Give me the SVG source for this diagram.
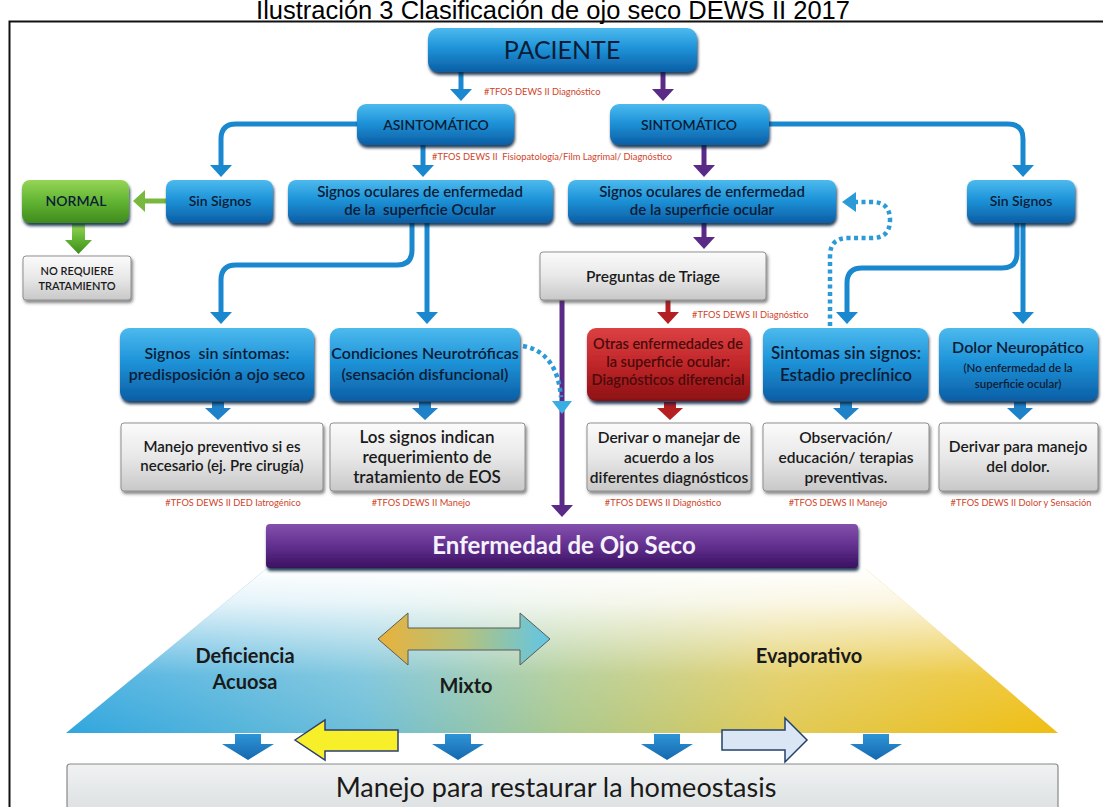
<svg xmlns="http://www.w3.org/2000/svg" width="1103" height="807" viewBox="0 0 1103 807">
<defs>
<style>
.t{font-family:Lato,"Open Sans","DejaVu Sans",sans-serif;text-anchor:middle;fill:#0b1c36}
.w6{font-weight:600}
.dk{fill:#1a1a1a}
.rd{fill:#4a0b0b}
.wh{fill:#f6f2fa}
.lbl{font-family:Lato,"Open Sans","DejaVu Sans",sans-serif;font-size:9.3px;fill:#d0442a}
.cb{fill:none;stroke:#1a88cf;stroke-width:5}
.cp{fill:none;stroke:#5a2a86;stroke-width:5}
.cr{fill:none;stroke:#b41f22;stroke-width:5}
.cg{fill:none;stroke:#78b840;stroke-width:5}
.cd{fill:none;stroke:#2a9ad8;stroke-width:4.5;stroke-dasharray:4 3.5}
.bb{fill:url(#gBlue);filter:url(#sh)}
.bg{fill:url(#gGray);stroke:#8f8f8f;stroke-width:1;filter:url(#sh2)}
</style>
<linearGradient id="gBlue" x1="0" y1="0" x2="0" y2="1">
<stop offset="0" stop-color="#4cbaee"/><stop offset="0.45" stop-color="#1f94d9"/><stop offset="1" stop-color="#0b5ea5"/>
</linearGradient>
<linearGradient id="gRed" x1="0" y1="0" x2="0" y2="1">
<stop offset="0" stop-color="#dc4043"/><stop offset="0.5" stop-color="#c02629"/><stop offset="1" stop-color="#8c1013"/>
</linearGradient>
<linearGradient id="gGreen" x1="0" y1="0" x2="0" y2="1">
<stop offset="0" stop-color="#96d556"/><stop offset="0.5" stop-color="#62b433"/><stop offset="1" stop-color="#3f8b1d"/>
</linearGradient>
<linearGradient id="gGray" x1="0" y1="0" x2="0" y2="1">
<stop offset="0" stop-color="#fbfbfb"/><stop offset="0.5" stop-color="#e8e8e8"/><stop offset="1" stop-color="#c8c8c8"/>
</linearGradient>
<linearGradient id="gPurple" x1="0" y1="0" x2="0" y2="1">
<stop offset="0" stop-color="#8450ad"/><stop offset="0.5" stop-color="#62308f"/><stop offset="1" stop-color="#3a1160"/>
</linearGradient>
<linearGradient id="gBottom" x1="0" y1="0" x2="0" y2="1">
<stop offset="0" stop-color="#f0f2f2"/><stop offset="1" stop-color="#d3d8da"/>
</linearGradient>
<linearGradient id="gTrap" x1="0" y1="0" x2="1" y2="0">
<stop offset="0" stop-color="#31a6de"/><stop offset="0.3" stop-color="#6fbfd9"/><stop offset="0.5" stop-color="#abc98f"/><stop offset="0.72" stop-color="#e0ca58"/><stop offset="1" stop-color="#f0be12"/>
</linearGradient>
<linearGradient id="gFade" x1="0" y1="0" x2="0" y2="1">
<stop offset="0" stop-color="#fff" stop-opacity="1"/><stop offset="0.2" stop-color="#fff" stop-opacity="0.85"/><stop offset="0.65" stop-color="#fff" stop-opacity="0.15"/><stop offset="1" stop-color="#fff" stop-opacity="0"/>
</linearGradient>
<linearGradient id="gMix" x1="0" y1="0" x2="1" y2="0">
<stop offset="0" stop-color="#e9b13a"/><stop offset="0.5" stop-color="#b4c27c"/><stop offset="1" stop-color="#60c6e6"/>
</linearGradient>
<linearGradient id="gBlk" x1="0" y1="0" x2="0" y2="1">
<stop offset="0" stop-color="#2e95d6"/><stop offset="1" stop-color="#1567ae"/>
</linearGradient>
<filter id="sh" x="-10%" y="-20%" width="125%" height="150%">
<feDropShadow dx="1" dy="3" stdDeviation="1.6" flood-color="#06223d" flood-opacity="0.85"/>
</filter>
<filter id="sh2" x="-10%" y="-20%" width="125%" height="150%">
<feDropShadow dx="1.5" dy="2.5" stdDeviation="1.5" flood-color="#333" flood-opacity="0.6"/>
</filter>
<marker id="mb" viewBox="0 0 12 22" refX="4" refY="11" markerWidth="12" markerHeight="22" markerUnits="userSpaceOnUse" orient="auto"><path d="M0,0 L12,11 L0,22 Z" fill="#1a88cf"/></marker>
<marker id="mp" viewBox="0 0 12 22" refX="4" refY="11" markerWidth="12" markerHeight="22" markerUnits="userSpaceOnUse" orient="auto"><path d="M0,0 L12,11 L0,22 Z" fill="#5a2a86"/></marker>
<marker id="mr" viewBox="0 0 12 22" refX="4" refY="11" markerWidth="12" markerHeight="22" markerUnits="userSpaceOnUse" orient="auto"><path d="M0,0 L12,11 L0,22 Z" fill="#b41f22"/></marker>
<marker id="mg" viewBox="0 0 12 22" refX="4" refY="11" markerWidth="12" markerHeight="22" markerUnits="userSpaceOnUse" orient="auto"><path d="M0,0 L12,11 L0,22 Z" fill="#78b840"/></marker>
<path id="blk" d="M-6,0 H6 V6 H13 L0,18 L-13,6 H-6 Z"/>
<path id="blkB" d="M-13,0 H13 V10 H26 L0,26 L-26,10 H-13 Z"/>
</defs>

<rect x="0" y="0" width="1103" height="807" fill="#fff"/>
<text x="553" y="18.5" font-family="'Liberation Sans',Arial,sans-serif" font-size="25.5" text-anchor="middle" fill="#000">Ilustración 3 Clasificación de ojo seco DEWS II 2017</text>
<path d="M9.5,807 V21.5 H1103" fill="none" stroke="#111" stroke-width="2"/>

<g id="section-bottom-bg">
<polygon points="266,569 866,569 1058,733 66,733" fill="url(#gTrap)"/>
<polygon points="266,569 866,569 1058,733 66,733" fill="url(#gFade)"/>
</g>

<g id="connectors">
<path class="cb" d="M461,72 V93" marker-end="url(#mb)"/>
<path class="cp" d="M663,72 V93" marker-end="url(#mp)"/>
<path class="cb" d="M357,124 H236 Q221,124 221,139 V169" marker-end="url(#mb)"/>
<path class="cb" d="M423,145 V169" marker-end="url(#mb)"/>
<path class="cp" d="M704,145 V169" marker-end="url(#mp)"/>
<path class="cb" d="M769,124 H1008 Q1023,124 1023,139 V169" marker-end="url(#mb)"/>
<path class="cp" d="M704,223 V241" marker-end="url(#mp)"/>
<path class="cg" d="M166,201 H141" marker-end="url(#mg)"/>
<path class="cb" d="M412,223 V250 Q412,265 397,265 H236 Q221,265 221,280 V316" marker-end="url(#mb)"/>
<path class="cb" d="M427,223 V316" marker-end="url(#mb)"/>
<path class="cb" d="M1017,223 V253 Q1017,268 1002,268 H862 Q847,268 847,283 V316" marker-end="url(#mb)"/>
<path class="cb" d="M1023,223 V316" marker-end="url(#mb)"/>
<path class="cr" d="M668,300 V316" marker-end="url(#mr)"/>
<path class="cp" d="M562,300 V509" marker-end="url(#mp)"/>
<path class="cd" d="M854,202 H872 Q890,202 890,220 Q890,238 872,238 H848 Q830,238 830,256 V326"/>
<polygon points="842,202 856,192 856,212" fill="#2a9ad8"/>
<path class="cd" d="M523,346 Q557,352 561,397"/>
<polygon points="552,401 572,401 562,414" fill="#38aee5"/>
<path d="M72,224 H85 V240 H92 L78.5,254 L65,240 H72 Z" fill="url(#gGreen)"/>
<use href="#blk" x="218" y="402" fill="#1f82c8"/>
<use href="#blk" x="425" y="402" fill="#1f82c8"/>
<use href="#blk" x="670" y="402" fill="#b41f22"/>
<use href="#blk" x="846" y="402" fill="#1f82c8"/>
<use href="#blk" x="1020" y="402" fill="#1f82c8"/>
<use href="#blkB" x="248" y="734" fill="url(#gBlk)"/>
<use href="#blkB" x="458" y="734" fill="url(#gBlk)"/>
<use href="#blkB" x="667" y="734" fill="url(#gBlk)"/>
<use href="#blkB" x="876" y="734" fill="url(#gBlk)"/>
<path d="M295,740 L325,720 V730 H398 V751 H325 V760 Z" fill="#f7ef2a" stroke="#2d3f73" stroke-width="1.5"/>
<path d="M722,730 H785 V718 L807,740 L785,762 V750 H722 Z" fill="#dbe6f4" stroke="#23406e" stroke-width="1.5"/>
<path d="M378,639 L408,613 V628 H520 V613 L550,639 L520,665 V650 H408 V665 Z" fill="url(#gMix)" stroke="#5a5a5a" stroke-width="1"/>
</g>

<g id="labels">
<text class="lbl" x="484" y="95">#TFOS DEWS II Diagnóstico</text>
<text class="lbl" x="432" y="160" style="white-space:pre">#TFOS DEWS II  Fisiopatología/Film Lagrimal/ Diagnóstico</text>
<text class="lbl" x="692" y="318">#TFOS DEWS II Diagnóstico</text>
<text class="lbl" x="233" y="506" text-anchor="middle">#TFOS DEWS II DED Iatrogénico</text>
<text class="lbl" x="421" y="506" text-anchor="middle">#TFOS DEWS II Manejo</text>
<text class="lbl" x="663" y="506" text-anchor="middle">#TFOS DEWS II Diagnóstico</text>
<text class="lbl" x="838" y="506" text-anchor="middle">#TFOS DEWS II Manejo</text>
<text class="lbl" x="1021" y="506" text-anchor="middle">#TFOS DEWS II Dolor y Sensación</text>
</g>

<g id="paciente">
<rect class="bb" x="428" y="28" width="269" height="44" rx="10"/>
<text class="t" x="562" y="59" font-size="25">PACIENTE</text>
</g>
<g id="asintomatico">
<rect class="bb" x="357" y="104" width="157" height="41" rx="9"/>
<text class="t w6" x="436" y="129.5" font-size="14">ASINTOMÁTICO</text>
</g>
<g id="sintomatico">
<rect class="bb" x="610" y="104" width="159" height="41" rx="9"/>
<text class="t w6" x="689" y="129.5" font-size="14">SINTOMÁTICO</text>
</g>

<g id="normal">
<rect x="22" y="180" width="107" height="43" rx="8" fill="url(#gGreen)" filter="url(#sh)"/>
<text class="t w6" x="76" y="206" font-size="14">NORMAL</text>
</g>
<g id="sin-signos-izq">
<rect class="bb" x="166" y="180" width="107" height="43" rx="8"/>
<text class="t w6" x="220" y="206" font-size="14">Sin Signos</text>
</g>
<g id="signos-oculares-izq">
<rect class="bb" x="288" y="180" width="265" height="43" rx="8"/>
<text class="t w6" x="420" y="197" font-size="15">Signos oculares de enfermedad</text>
<text class="t w6" x="420" y="215" font-size="15" style="white-space:pre">de la  superficie Ocular</text>
</g>
<g id="signos-oculares-der">
<rect class="bb" x="568" y="180" width="268" height="43" rx="8"/>
<text class="t w6" x="702" y="197" font-size="15">Signos oculares de enfermedad</text>
<text class="t w6" x="702" y="215" font-size="15">de la superficie ocular</text>
</g>
<g id="sin-signos-der">
<rect class="bb" x="967" y="180" width="108" height="43" rx="8"/>
<text class="t w6" x="1021" y="206" font-size="14">Sin Signos</text>
</g>

<g id="no-requiere">
<rect class="bg" x="23" y="256" width="108" height="44" rx="3"/>
<text class="t w6 dk" x="77" y="275" font-size="11">NO REQUIERE</text>
<text class="t w6 dk" x="77" y="290" font-size="11">TRATAMIENTO</text>
</g>
<g id="triage">
<rect class="bg" x="540" y="252" width="226" height="48" rx="3"/>
<text class="t w6 dk" x="653" y="282" font-size="15.5">Preguntas de Triage</text>
</g>

<g id="signos-sin-sintomas">
<rect class="bb" x="120" y="328" width="194" height="73" rx="9"/>
<text class="t w6" x="217" y="359" font-size="16" style="white-space:pre">Signos  sin síntomas:</text>
<text class="t w6" x="217" y="380" font-size="16">predisposición a ojo seco</text>
</g>
<g id="condiciones">
<rect class="bb" x="330" y="328" width="190" height="73" rx="9"/>
<text class="t w6" x="425" y="359" font-size="16">Condiciones Neurotróficas</text>
<text class="t w6" x="425" y="380" font-size="16">(sensación disfuncional)</text>
</g>
<g id="otras-enfermedades">
<rect x="587" y="328" width="163" height="73" rx="9" fill="url(#gRed)" filter="url(#sh)"/>
<text class="t w6 rd" x="668" y="349" font-size="14.5">Otras enfermedades de</text>
<text class="t w6 rd" x="668" y="367" font-size="14.5">la superficie ocular:</text>
<text class="t w6 rd" x="668" y="385" font-size="14.5">Diagnósticos diferencial</text>
</g>
<g id="sintomas-sin-signos">
<rect class="bb" x="763" y="328" width="165" height="73" rx="9"/>
<text class="t w6" x="846" y="359" font-size="17">Sintomas sin signos:</text>
<text class="t w6" x="846" y="381" font-size="17">Estadio preclínico</text>
</g>
<g id="dolor-neuropatico">
<rect class="bb" x="939" y="328" width="159" height="73" rx="9"/>
<text class="t w6" x="1018" y="353" font-size="16">Dolor Neuropático</text>
<text class="t w6" x="1018" y="372" font-size="11.5">(No enfermedad de la</text>
<text class="t w6" x="1018" y="388" font-size="11.5">superficie ocular)</text>
</g>

<g id="manejo-preventivo">
<rect class="bg" x="121" y="423" width="202" height="68" rx="3"/>
<text class="t w6 dk" x="222" y="452" font-size="15">Manejo preventivo si es</text>
<text class="t w6 dk" x="222" y="471" font-size="15">necesario (ej. Pre cirugía)</text>
</g>
<g id="los-signos">
<rect class="bg" x="330" y="423" width="195" height="68" rx="3"/>
<text class="t w6 dk" x="427" y="443" font-size="17">Los signos indican</text>
<text class="t w6 dk" x="427" y="463" font-size="17">requerimiento de</text>
<text class="t w6 dk" x="427" y="483" font-size="17">tratamiento de EOS</text>
</g>
<g id="derivar-manejar">
<rect class="bg" x="587" y="423" width="164" height="68" rx="3"/>
<text class="t w6 dk" x="669" y="443" font-size="15.5">Derivar o manejar de</text>
<text class="t w6 dk" x="669" y="463" font-size="15.5">acuerdo a los</text>
<text class="t w6 dk" x="669" y="483" font-size="15.5">diferentes diagnósticos</text>
</g>
<g id="observacion">
<rect class="bg" x="763" y="423" width="166" height="68" rx="3"/>
<text class="t w6 dk" x="846" y="443" font-size="15.5">Observación/</text>
<text class="t w6 dk" x="846" y="463" font-size="15.5">educación/ terapias</text>
<text class="t w6 dk" x="846" y="483" font-size="15.5">preventivas.</text>
</g>
<g id="derivar-dolor">
<rect class="bg" x="939" y="423" width="159" height="68" rx="3"/>
<text class="t w6 dk" x="1018" y="452" font-size="15.5">Derivar para manejo</text>
<text class="t w6 dk" x="1018" y="472" font-size="15.5">del dolor.</text>
</g>

<g id="enfermedad-ojo-seco">
<rect x="266" y="524" width="592" height="44" rx="4" fill="url(#gPurple)" filter="url(#sh)"/>
<text class="t wh" x="564" y="554" font-size="24" font-weight="700">Enfermedad de Ojo Seco</text>
</g>
<g id="tipos">
<text class="t dk" x="245" y="663" font-size="20" font-weight="700">Deficiencia</text>
<text class="t dk" x="245" y="689" font-size="20" font-weight="700">Acuosa</text>
<text class="t dk" x="466" y="693" font-size="20" font-weight="700">Mixto</text>
<text class="t dk" x="809" y="663" font-size="20" font-weight="700">Evaporativo</text>
</g>
<g id="manejo-homeostasis">
<rect x="67" y="764" width="991" height="70" rx="3" fill="url(#gBottom)" stroke="#888" stroke-width="1.2"/>
<text class="t dk" x="556" y="797" font-size="27">Manejo para restaurar la homeostasis</text>
</g>
</svg>
